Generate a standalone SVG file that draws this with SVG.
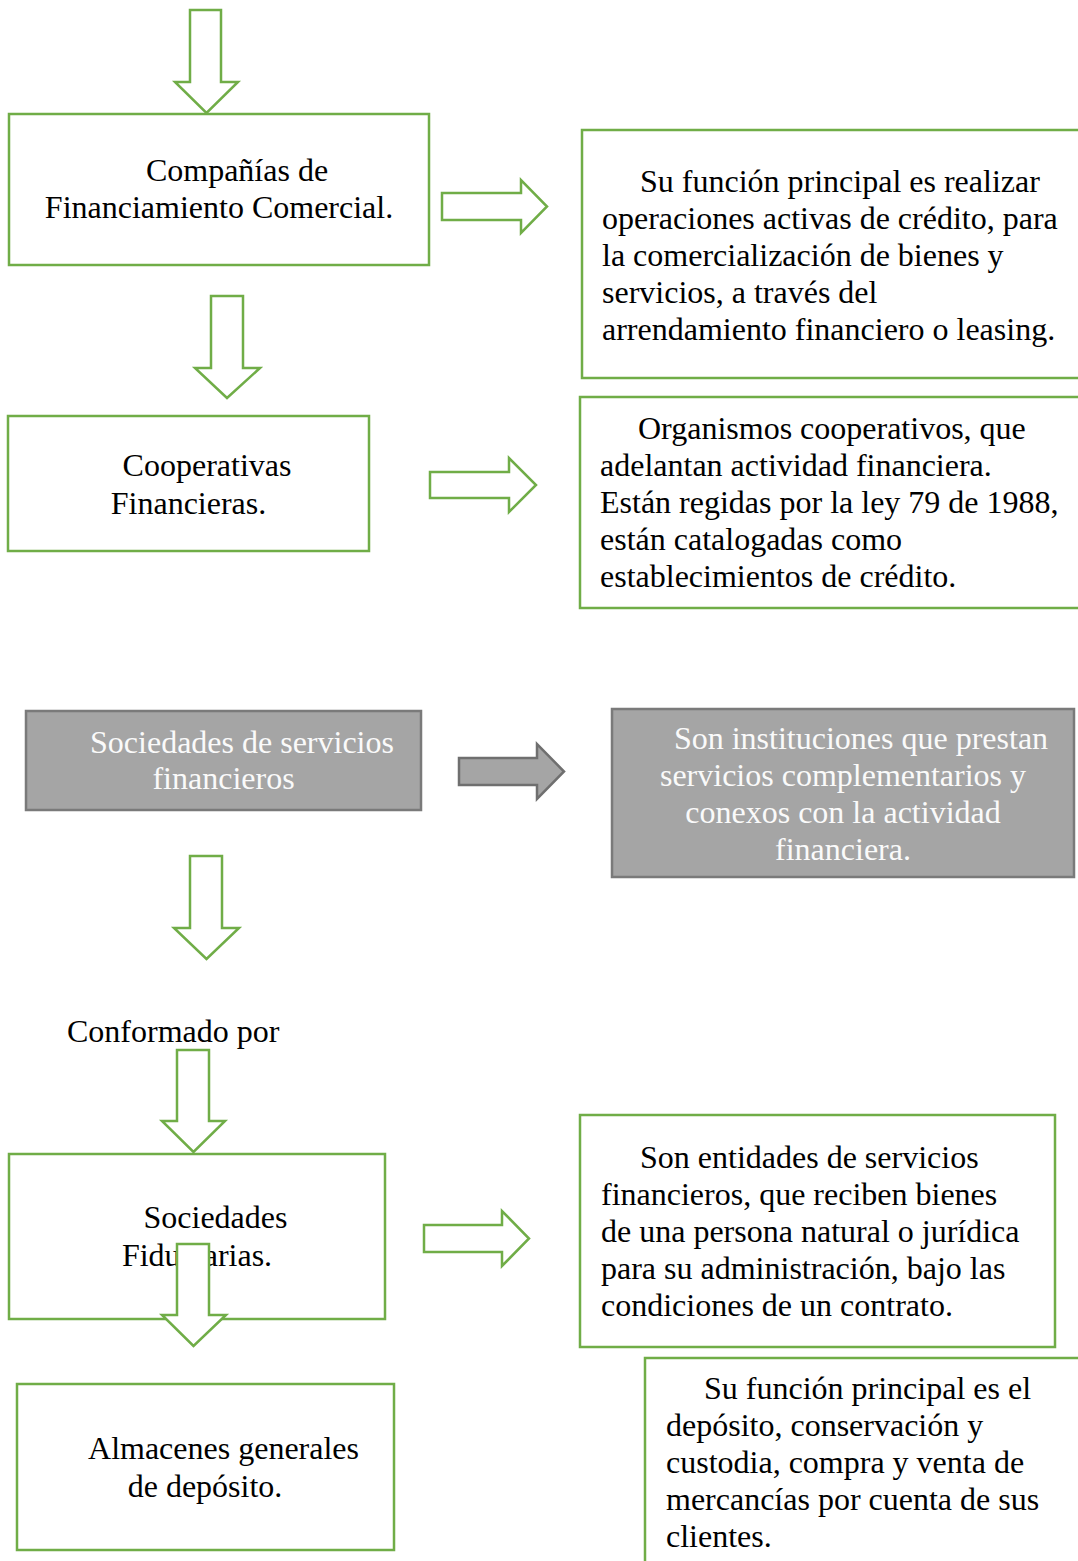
<svg xmlns="http://www.w3.org/2000/svg" width="1078" height="1561" viewBox="0 0 1078 1561">
<style>
text{font-family:"Liberation Serif","Times New Roman",serif;font-size:32px;fill:#000}
.box{fill:#fff;stroke:#70ad47;stroke-width:2.5}
.gbox{fill:#a5a5a5;stroke:#7a7a7a;stroke-width:2.5}
.garr{fill:#a5a5a5;stroke:#6f6f6f;stroke-width:2.5;stroke-linejoin:miter}
.arr{fill:#fff;stroke:#70ad47;stroke-width:2.5;stroke-linejoin:miter}
.w{fill:#fafafa}
.c{text-anchor:middle}
</style>
<rect width="1078" height="1561" fill="#fff"/>
<g id="n-companias">
<rect class="box" x="9" y="114" width="420" height="151"/>
<text class="c" x="237" y="181">Compañías de</text>
<text class="c" x="219" y="218">Financiamiento Comercial.</text>
</g>
<g id="n-companias-desc">
<rect class="box" x="582" y="130" width="510" height="248"/>
<text x="640" y="192">Su función principal es realizar</text>
<text x="602" y="229">operaciones activas de crédito, para</text>
<text x="602" y="266">la comercialización de bienes y</text>
<text x="602" y="303">servicios, a través del</text>
<text x="602" y="340">arrendamiento financiero o leasing.</text>
</g>
<g id="n-cooperativas">
<rect class="box" x="8" y="416" width="361" height="135"/>
<text class="c" x="207" y="476">Cooperativas</text>
<text class="c" x="188.5" y="514">Financieras.</text>
</g>
<g id="n-cooperativas-desc">
<rect class="box" x="580" y="397" width="512" height="211"/>
<text x="638" y="439">Organismos cooperativos, que</text>
<text x="600" y="476">adelantan actividad financiera.</text>
<text x="600" y="513">Están regidas por la ley 79 de 1988,</text>
<text x="600" y="550">están catalogadas como</text>
<text x="600" y="587">establecimientos de crédito.</text>
</g>
<g id="n-sociedades-servicios">
<rect class="gbox" x="26" y="711" width="395" height="99"/>
<text class="c w" x="242" y="753">Sociedades de servicios</text>
<text class="c w" x="223.5" y="789">financieros</text>
</g>
<g id="n-sociedades-servicios-desc">
<rect class="gbox" x="612" y="709" width="462" height="168"/>
<text class="c w" x="861" y="749">Son instituciones que prestan</text>
<text class="c w" x="843" y="786">servicios complementarios y</text>
<text class="c w" x="843" y="823">conexos con la actividad</text>
<text class="c w" x="843" y="860">financiera.</text>
</g>
<g id="n-conformado">
<text x="67" y="1042">Conformado por</text>
</g>
<g id="n-fiduciarias">
<rect class="box" x="9" y="1154" width="376" height="165"/>
<text class="c" x="215.5" y="1228">Sociedades</text>
<text class="c" x="197" y="1266">Fiduciarias.</text>
</g>
<g id="n-fiduciarias-desc">
<rect class="box" x="580" y="1115" width="475" height="232"/>
<text x="640" y="1168">Son entidades de servicios</text>
<text x="601" y="1205">financieros, que reciben bienes</text>
<text x="601" y="1242">de una persona natural o jurídica</text>
<text x="601" y="1279">para su administración, bajo las</text>
<text x="601" y="1316">condiciones de un contrato.</text>
</g>
<g id="n-almacenes">
<rect class="box" x="17" y="1384" width="377" height="166"/>
<text class="c" x="223.5" y="1459">Almacenes generales</text>
<text class="c" x="205" y="1497">de depósito.</text>
</g>
<g id="n-almacenes-desc">
<rect class="box" x="645" y="1358" width="450" height="220"/>
<text x="704" y="1399">Su función principal es el</text>
<text x="666" y="1436">depósito, conservación y</text>
<text x="666" y="1473">custodia, compra y venta de</text>
<text x="666" y="1510">mercancías por cuenta de sus</text>
<text x="666" y="1547">clientes.</text>
</g>
<g id="connectors">
<polygon class="arr" points="190,10 221,10 221,82 238,82 206.5,113 175,82 190,82"/>
<polygon class="arr" points="442,193 521,193 521,180 547,206.5 521,233 521,220 442,220"/>
<polygon class="arr" points="211,296 243,296 243,368 260,368 227,398 195,368 211,368"/>
<polygon class="arr" points="430,472 509,472 509,458 536,485 509,512 509,498 430,498"/>
<polygon class="garr" points="459,758 537,758 537,744 564,771.5 537,799 537,785 459,785"/>
<polygon class="arr" points="190,856 222,856 222,928 239,928 206.5,959 174,928 190,928"/>
<polygon class="arr" points="177,1050 209,1050 209,1121 225,1121 193.5,1152 162,1121 177,1121"/>
<polygon class="arr" points="424,1225 502,1225 502,1211 529,1238.5 502,1266 502,1252 424,1252"/>
<polygon class="arr" points="177,1244 209,1244 209,1315 226,1315 193.5,1346 162,1315 177,1315"/>
</g>
</svg>
